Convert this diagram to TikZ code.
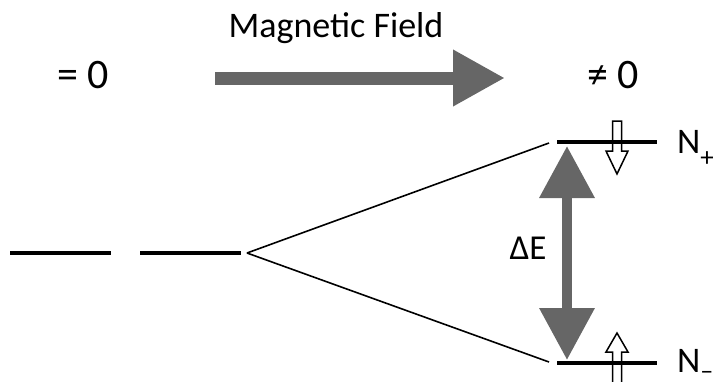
\documentclass[tikz,border=0pt]{standalone}
\usepackage{fontspec}
\setmainfont{Carlito}
\usetikzlibrary{arrows.meta}
\definecolor{agray}{RGB}{102,102,102}
\begin{document}
\begin{tikzpicture}[x=1pt,y=-1pt,
  level/.style={line width=4pt},
  split/.style={line width=1.6pt},
  bigarrow/.style={draw=agray,line width=13pt,-{Triangle[length=52pt,width=53pt]}},
  bigdarrow/.style={draw=agray,line width=10pt,{Triangle[length=52pt,width=53pt]}-{Triangle[length=52pt,width=53pt]}},
  spin/.style={draw=black,fill=white,line width=1.5pt,line join=miter},
  lbl/.style={font=\fontsize{42}{46}\selectfont, inner sep=0pt},
  nlbl/.style={font=\fontsize{36}{40}\selectfont, inner sep=0pt, anchor=base west}]
\useasboundingbox (0,0) rectangle (713,381);
% labels
\node[lbl] (zero) at (83,75) {= 0};
\node[lbl] (nonzero) at (613,75) {≠ 0};
\node[font=\fontsize{36}{40}\selectfont, inner sep=0pt, anchor=base] (mf) at (336,37) {Magnetic Field};
\node[font=\fontsize{35}{38}\selectfont, inner sep=0pt] (dE) at (528,248) {ΔE};
% magnetic field arrow
\coordinate (mfa) at (215,78);
\coordinate (mfb) at (505,78);
\draw[bigarrow] (mfa) -- (mfb);
% levels
\coordinate (l1a) at (10,253); \coordinate (l1b) at (111,253);
\coordinate (l2a) at (140,253); \coordinate (l2b) at (241,253);
\coordinate (s0) at (247,253);
\coordinate (upa) at (557,142); \coordinate (upb) at (657,142);
\coordinate (dna) at (557,363); \coordinate (dnb) at (657,363);
\coordinate (s1) at (549,143);
\coordinate (s2) at (549,362);
% spin arrows
\draw[spin] (612.5,121) -- (621.5,121) -- (621.5,151) -- (628,151) -- (617,174) -- (606,151) -- (612.5,151) -- cycle;
\draw[spin] (612.5,390) -- (621.5,390) -- (621.5,352) -- (628,352) -- (617,333) -- (606,352) -- (612.5,352) -- cycle;
\draw[level] (l1a) -- (l1b);
\draw[level] (l2a) -- (l2b);
\draw[level] (upa) -- (upb);
\draw[level] (dna) -- (dnb);
\draw[split] (s0) -- (s1);
\draw[split] (s0) -- (s2);
% delta E arrow
\coordinate (ea) at (567,146);
\coordinate (eb) at (567,360);
\draw[bigdarrow] (ea) -- (eb);
% N labels
\node[nlbl] (np) at (677,153) {N\raisebox{-13pt}{\fontsize{27}{27}\selectfont +}};
\node[nlbl] (nm) at (677,372) {N\raisebox{-7pt}{\fontsize{26}{26}\selectfont –}};
\end{tikzpicture}
\end{document}
